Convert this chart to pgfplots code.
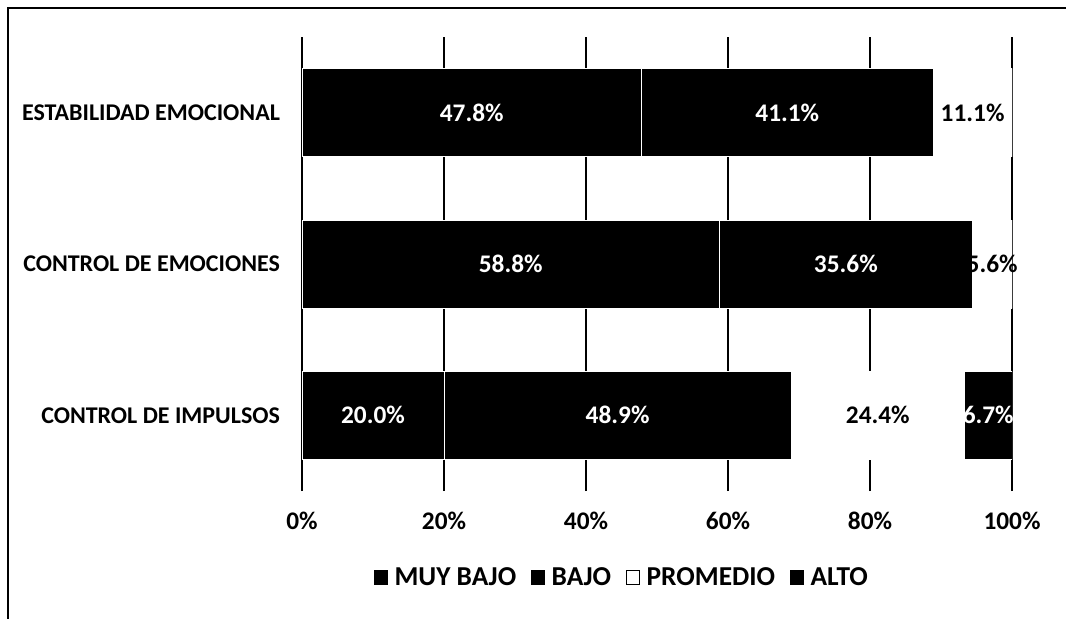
\documentclass[border=0pt]{standalone}
\usepackage{pgfplots}
\pgfplotsset{compat=1.18}
\usepackage{fontspec}
\setmainfont{Carlito}
\newcommand\fs[1]{\fontsize{#1}{#1}\selectfont\bfseries}
\begin{document}
\begin{tikzpicture}
\path[use as bounding box] (-226.5pt,-95.25pt) rectangle (573pt,368.25pt);
\draw[line width=1.2pt] (-220.5pt,-100pt) -- (-220.5pt,362.25pt) -- (580pt,362.25pt);
\begin{axis}[
  at={(0,0)}, anchor=south west,
  scale only axis, width=532.5pt, height=340.5pt,
  xbar stacked, bar width=66pt,
  xmin=0, xmax=100, ymin=0.5, ymax=3.5,
  axis line style={draw=none},
  xmajorgrids, major grid style={black, line width=1pt},
  xtick={0,20,40,60,80,100},
  xticklabels={0\%,20\%,40\%,60\%,80\%,100\%},
  ytick={1,2,3},
  yticklabels={CONTROL DE IMPULSOS, CONTROL DE EMOCIONES, ESTABILIDAD EMOCIONAL},
  major tick length=0pt,
  xticklabel style={font=\fs{19}, yshift=-12pt},
  yticklabel style={font=\fs{18}, xshift=-13pt},
  point meta=explicit symbolic,
  nodes near coords,
  every node near coord/.append style={anchor=center, font=\fs{19}},
  legend columns=4,
  legend style={at={(0.451,-0.19)}, anchor=center, draw=none, font=\fs{20.5},
    /tikz/every odd column/.append style={column sep=3pt},
    /tikz/every even column/.append style={column sep=9pt}},
  legend image code/.code={\draw[#1] (0pt,-5pt) rectangle (10pt,5pt);},
]
\addplot[fill=black, draw=white, line width=0.6pt, nodes near coords style={text=white},
  legend image post style={draw=black}]
  coordinates {(20.0,1) [20.0\%] (58.8,2) [58.8\%] (47.8,3) [47.8\%]};
\addplot[fill=black, draw=white, line width=0.6pt, nodes near coords style={text=white},
  legend image post style={draw=black}]
  coordinates {(48.9,1) [48.9\%] (35.6,2) [35.6\%] (41.1,3) [41.1\%]};
\addplot[fill=white, draw=white, line width=0.6pt, nodes near coords style={text=black},
  legend image post style={draw=black}]
  coordinates {(24.4,1) [24.4\%] (5.6,2) [5.6\%] (11.1,3) [11.1\%]};
\addplot[fill=black, draw=white, line width=0.6pt, nodes near coords style={text=white},
  legend image post style={draw=black}]
  coordinates {(6.7,1) [6.7\%]};
\legend{MUY BAJO, BAJO, PROMEDIO, ALTO}
\end{axis}
\end{tikzpicture}
\end{document}
